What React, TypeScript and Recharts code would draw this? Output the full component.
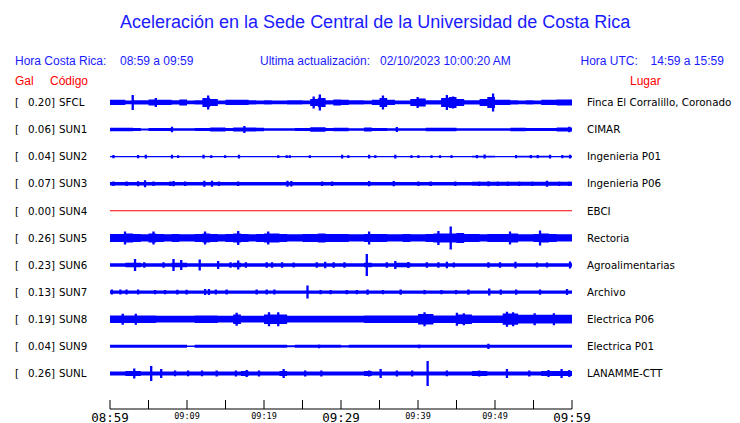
import { ComposedChart, Area, XAxis, YAxis } from 'recharts';

// estaciones
const codes = ['SFCL', 'SUN1', 'SUN2', 'SUN3', 'SUN4', 'SUN5', 'SUN6', 'SUN7', 'SUN8', 'SUN9', 'SUNL'];
const gal = ['0.20', '0.06', '0.04', '0.07', '0.00', '0.26', '0.23', '0.13', '0.19', '0.04', '0.26'];
const places = [
  'Finca El Corralillo, Coronado', 'CIMAR', 'Ingenieria P01', 'Ingenieria P06', 'EBCI', 'Rectoria',
  'Agroalimentarias', 'Archivo', 'Electrica P06', 'Electrica P01', 'LANAMME-CTT',
];
const traceColors = ['#0000ff', '#0000ff', '#0000ff', '#0000ff', '#ff0000', '#0000ff', '#0000ff', '#0000ff', '#0000ff', '#0000ff', '#0000ff'];

// eje de tiempo (minutos desde 08:59)
const minuteGrid = [
  0, 1, 2, 3, 4, 5, 6, 7, 8, 9, 10, 11, 12, 13, 14, 15, 16, 17, 18, 19, 20, 21, 22, 23, 24, 25, 26, 27, 28, 29, 30,
  31, 32, 33, 34, 35, 36, 37, 38, 39, 40, 41, 42, 43, 44, 45, 46, 47, 48, 49, 50, 51, 52, 53, 54, 55, 56, 57, 58, 59, 60,
];
const tickMinutes = [0, 5, 10, 15, 20, 25, 30, 35, 40, 45, 50, 55, 60];
const tickText = ['08:59', '', '09:09', '', '09:19', '', '09:29', '', '09:39', '', '09:49', '', '09:59'];
const bigTicks = ['08:59', '09:29', '09:59'];

// envolvente por minuto (media amplitud, px)
const envSFCL = [2.6, 2.6, 1.8, 2.2, 2.2, 3, 2.6, 2.6, 2.2, 3, 1.8, 2.2, 4.5, 3.5, 1.8, 2.6, 2.6, 2.6, 2.2, 1.8, 2.2, 1.8, 1.8, 2.2, 2.2, 1.8, 3.5, 4.5, 2.2, 3, 2.6, 2.2, 2.2, 1.8, 2.6, 4.5, 2.6, 1.8, 1.8, 3.5, 4, 2.2, 2.2, 4.5, 5.5, 3.5, 2.2, 2.2, 3.5, 5.5, 2.6, 2.6, 2.2, 1.8, 2.2, 1.8, 2.6, 2.6, 3, 3, 2.6];
const envSUN1 = [1.8, 1.8, 1.8, 1.5, 1.0, 1.5, 1.5, 1.5, 1.2, 1.2, 1.2, 1.5, 1.5, 2, 2, 1.5, 2, 2, 2, 1.8, 1.2, 1.2, 1.2, 1.2, 1.5, 1.5, 2.2, 2.2, 1.5, 1.8, 1.8, 1.3, 1.3, 2, 1.6, 1.6, 1.3, 1.3, 1.2, 1.2, 1.2, 1.8, 1.8, 1.8, 1.8, 1.3, 1.3, 1.3, 1.3, 1.3, 1.3, 1.3, 1.8, 1.8, 1.6, 1.6, 1.6, 1.6, 2, 2, 2];
const envSUN2 = [0.6, 0.6, 0.6, 0.6, 0.6, 0.6, 0.6, 0.6, 0.6, 0.6, 0.6, 0.6, 0.6, 0.6, 0.6, 0.6, 0.6, 0.6, 0.6, 0.6, 0.6, 0.6, 0.6, 0.6, 0.6, 0.6, 0.6, 0.6, 0.6, 0.6, 0.6, 0.6, 0.6, 0.6, 0.6, 0.6, 0.6, 0.6, 0.6, 0.6, 0.6, 0.6, 0.6, 0.6, 0.6, 0.6, 0.6, 0.8, 0.8, 0.8, 0.6, 0.6, 0.6, 0.8, 0.8, 0.8, 0.8, 0.6, 0.6, 0.8, 0.8];
const envSUN3 = [1.8, 1.8, 1.8, 1.8, 1.8, 1.8, 1.8, 1.8, 1.8, 1.8, 1.8, 1.8, 1.8, 1.8, 1.8, 1.8, 1.8, 1.8, 1.8, 1.8, 1.8, 1.8, 1.8, 1.8, 1.8, 1.8, 1.8, 1.8, 1.8, 1.8, 1.8, 1.8, 1.8, 1.8, 1.8, 1.8, 1.8, 1.8, 1.8, 1.8, 1.8, 1.8, 1.8, 1.8, 1.8, 1.8, 1.8, 2, 2, 2, 2, 2, 2, 2, 2, 2, 2, 2, 2, 2, 2];
const envSUN4 = [0.5, 0.5, 0.5, 0.5, 0.5, 0.5, 0.5, 0.5, 0.5, 0.5, 0.5, 0.5, 0.5, 0.5, 0.5, 0.5, 0.5, 0.5, 0.5, 0.5, 0.5, 0.5, 0.5, 0.5, 0.5, 0.5, 0.5, 0.5, 0.5, 0.5, 0.5, 0.5, 0.5, 0.5, 0.5, 0.5, 0.5, 0.5, 0.5, 0.5, 0.5, 0.5, 0.5, 0.5, 0.5, 0.5, 0.5, 0.5, 0.5, 0.5, 0.5, 0.5, 0.5, 0.5, 0.5, 0.5, 0.5, 0.5, 0.5, 0.5, 0.5];
const envSUN5 = [4, 4, 4.5, 4, 3.6, 4.5, 4, 3.6, 4, 3.6, 3.6, 4, 4.5, 4, 3.6, 4, 4.5, 4, 3.6, 4, 4.5, 4.5, 4, 3.6, 3.6, 4, 4, 4.5, 4, 4, 4, 3.6, 3.6, 4, 4, 4, 3.6, 3.6, 4, 3.6, 3.6, 4, 4.5, 4.5, 4.5, 5, 4, 4, 3.6, 4, 4, 4, 4.5, 3.6, 3.6, 4, 4.5, 4, 3.6, 3.6, 3.6];
const envSUN6 = [1.8, 1.8, 2.3, 2.3, 1.8, 1.8, 1.8, 1.8, 2.3, 2.3, 1.8, 1.8, 1.8, 1.8, 1.8, 1.8, 2.3, 1.8, 1.8, 1.8, 1.8, 1.8, 1.8, 1.8, 1.8, 1.8, 1.8, 1.8, 1.8, 1.8, 1.8, 1.8, 1.8, 2.3, 1.8, 1.8, 1.8, 2.3, 2.3, 1.8, 1.8, 1.8, 1.8, 1.8, 1.8, 1.8, 1.8, 1.8, 1.8, 1.8, 1.8, 1.8, 1.8, 1.8, 1.8, 1.8, 1.8, 1.8, 1.8, 1.8, 1.8];
const envSUN7 = [1.7, 1.7, 1.7, 1.7, 1.7, 1.7, 1.7, 1.7, 1.7, 1.7, 1.7, 1.7, 1.7, 1.7, 1.7, 1.7, 1.7, 1.7, 1.7, 1.7, 1.7, 1.7, 1.7, 1.7, 1.7, 1.7, 1.7, 1.7, 1.7, 1.7, 1.7, 1.7, 1.7, 1.7, 1.7, 1.7, 1.7, 1.7, 1.7, 1.7, 1.7, 1.7, 1.7, 1.7, 1.7, 1.7, 1.7, 1.7, 1.7, 1.7, 1.7, 1.7, 1.7, 1.7, 1.7, 1.7, 1.7, 1.7, 1.7, 1.7, 1.7];
const envSUN8 = [3.8, 3.8, 3.8, 3.8, 3.8, 3.8, 3.4, 3.4, 3.4, 3.4, 3.4, 3.8, 3.8, 3.8, 3.4, 3.4, 4.8, 3.4, 3.4, 3.4, 4.8, 4.8, 4.8, 3.4, 3.4, 3.4, 3.4, 3.4, 3.4, 3.4, 3.4, 3.4, 3.4, 3.8, 3.8, 3.8, 3.8, 3.8, 3.8, 3.8, 5.2, 5.2, 3.8, 3.8, 3.8, 4.8, 4.8, 3.8, 3.8, 3.8, 3.8, 5.6, 5.6, 4.4, 4.4, 4.4, 4.4, 4.4, 4.4, 4.4, 4.4];
const envSUN9 = [1.5, 1.5, 1.5, 1.5, 1.5, 1.5, 1.5, 1.5, 1.5, 1.5, 0.8, 1.5, 1.5, 1.5, 1.5, 1.5, 1.5, 1.5, 1.5, 1.5, 1.5, 1.5, 1.5, 1.0, 1.5, 1.5, 1.5, 1.5, 1.5, 1.5, 1.1, 1.5, 1.5, 1.5, 1.5, 1.5, 1.5, 1.5, 1.5, 1.5, 1.5, 1.5, 1.5, 1.5, 1.5, 1.5, 1.5, 1.5, 1.5, 1.5, 1.5, 1.5, 1.5, 1.5, 1.5, 1.5, 1.5, 1.5, 1.5, 1.5, 1.5];
const envSUNL = [2, 2, 2.5, 2.5, 2, 2, 2, 2, 2, 2, 2, 2, 2, 2, 2, 2, 2, 2.5, 2, 2, 2, 2, 2.5, 2, 2, 2, 2, 2, 2, 2, 2, 2, 2, 2.5, 2, 2, 2, 2, 2, 2, 2, 2, 2, 2, 2, 2, 2, 2.5, 2.5, 2, 2, 2, 2, 2, 2, 2, 2.5, 2.5, 2.5, 2.5, 2.5];

// picos: [minuto, media amplitud]
const spkSFCL = [[2.8, 7.5], [5.8, 4.5], [12.6, 7], [26.3, 6], [27.1, 8], [35.3, 7], [39.8, 5.5], [43.6, 7.5], [44.4, 6], [49.6, 9]];
const spkSUN1 = [[7.9, 2.8], [17.3, 3.5], [37.1, 2.6], [59.5, 2.8]];
const spkSUN2 = [[0.3, 1.6], [3.5, 1.6], [4.5, 1.9], [7.9, 1.9], [8.7, 1.4], [12, 1.9], [13, 1.4], [14.8, 1.4], [16.6, 1.9], [21.7, 1.4], [22.8, 1.4], [23.2, 1.4], [25.8, 1.4], [30, 1.9], [30.8, 1.4], [33.5, 1.9], [34.3, 1.4], [36.9, 1.9], [39, 1.4], [39.9, 1.4], [41.6, 1.4], [42.7, 1.4], [44.2, 1.4], [47.5, 1.6], [48.5, 2], [52.6, 1.6], [54.5, 1.6], [55.4, 1.6], [57, 1.9], [58.6, 1.6], [59.6, 1.9]];
const spkSUN3 = [[0.3, 2.3], [2, 2.2], [3.5, 2.5], [4.4, 3.5], [5.5, 2.3], [7.7, 2.3], [8.1, 2.6], [9.6, 2.3], [12.1, 3], [13.1, 3], [14, 2.3], [16.5, 2.3], [22.9, 3], [23.4, 2.8], [27.4, 2.3], [28.7, 2.3], [33.5, 2.6], [36.7, 2.6], [39.9, 2.3], [41.5, 2.3], [44.7, 2.3], [47.8, 2.3], [49, 2.5], [50.2, 2.3], [51.5, 2.3], [53, 2.3], [54.7, 2.3], [56.6, 3], [58.2, 2.3], [59.5, 2.3]];
const spkSUN4: number[][] = [];
const spkSUN5 = [[1.8, 6.5], [5.5, 6.5], [12.2, 6.5], [16.5, 7], [20.4, 6.5], [33.5, 6.5], [42.5, 7], [44.1, 11.5], [51.8, 6.5], [55.7, 7.5]];
const spkSUN6 = [[3.1, 6], [4.3, 2.8], [6.8, 2.8], [8.1, 6], [9.1, 5], [11.5, 5.5], [13.9, 4], [15.5, 2.8], [16.5, 4.5], [17.5, 2.8], [20.2, 2.8], [20.9, 2.8], [22.2, 2.8], [23.7, 2.5], [26.7, 2.8], [27.8, 3.2], [28.9, 2.8], [30.3, 2.8], [33.2, 11], [35.8, 2.8], [36.9, 4], [38.6, 3], [41, 2.8], [42.5, 2.8], [43.6, 3.2], [44.5, 2.5], [49, 2.8], [50.5, 2.8], [52.5, 3.2], [55.3, 2.5], [56.6, 2.5], [59.6, 3.5]];
const spkSUN7 = [[0.1, 2.5], [1.2, 2.5], [2, 2.5], [3.5, 2.5], [5.7, 2.2], [7, 2.2], [8.6, 2.4], [9.8, 2.4], [12.2, 3], [12.7, 3], [13.6, 2.5], [15, 2.5], [18.9, 2.5], [20.2, 2.5], [21.2, 2.5], [25.5, 6.5], [27.2, 2.2], [28.5, 2.2], [30.6, 2.2], [31.9, 2.2], [33.3, 2.6], [35.3, 2.2], [37.6, 2.6], [40.7, 2.2], [42.9, 2.2], [44.8, 2.2], [46.4, 2.6], [49.1, 3.5], [50.6, 2.6], [52.6, 2.6], [55.7, 2.6], [59.2, 3]];
const spkSUN8 = [[1.5, 5.5], [3.2, 5.5], [16.3, 6.5], [20.5, 7], [21.7, 7], [40.7, 7], [44.9, 6.5], [45.8, 6], [51.4, 7.5], [52.2, 7], [55, 6], [57.5, 6]];
const spkSUN9 = [[27, 1.9], [40, 1.9], [49, 2.6]];
const spkSUNL = [[3, 5], [5.2, 7.5], [6.5, 4.5], [8.3, 2.8], [10, 2.8], [11.8, 2.8], [13.7, 3], [16.2, 3], [17.6, 3.5], [19.2, 3], [22.4, 4.5], [25.2, 3], [27.3, 3], [33.5, 3], [35, 4.5], [37.1, 3], [39.1, 3], [41.1, 12.5], [43.6, 2.8], [47.8, 3], [51.4, 4.5], [54.3, 3], [56.8, 3.5], [58.5, 4.5], [59.5, 3.5]];

const envelopes = [envSFCL, envSUN1, envSUN2, envSUN3, envSUN4, envSUN5, envSUN6, envSUN7, envSUN8, envSUN9, envSUNL];
const spikes = [spkSFCL, spkSUN1, spkSUN2, spkSUN3, spkSUN4, spkSUN5, spkSUN6, spkSUN7, spkSUN8, spkSUN9, spkSUNL];

const SPIKE_LEN = 0.3;
const ROW_TOP = 306.6;
const ROW_STEP = 27.1;
const center = (i: number) => ROW_TOP - ROW_STEP * i;
const rowCenters = codes.map((_, i) => center(i));

function ampAt(s: number, t: number) {
  const m = Math.min(60, Math.floor(t + 1e-6));
  let a = envelopes[s][m];
  for (const [ts, as] of spikes[s]) {
    if (t >= ts - 1e-6 && t < ts + SPIKE_LEN - 1e-6) a = Math.max(a, as);
  }
  return a;
}

const times = Array.from(
  new Set([...minuteGrid, ...spikes.flat().flatMap(([t]) => [t, +(t + SPIKE_LEN).toFixed(2)])])
)
  .filter((t) => t <= 60)
  .sort((a, b) => a - b);

const data = times.map((t) => {
  const row: any = { t };
  codes.forEach((c, i) => {
    const a = ampAt(i, t);
    row[c] = [center(i) - a, center(i) + a];
  });
  return row;
});

const BLUE = '#1a1aff';
const RED = '#ff0000';
const SANS = '"Liberation Sans", Arial, sans-serif';
const LABEL = '"DejaVu Sans", sans-serif';

function rowIndex(v: number) {
  return rowCenters.findIndex((c) => Math.abs(c - v) < 0.5);
}

const LeftTick = (p: any) => {
  const i = rowIndex(p.payload.value);
  if (i < 0) return <g />;
  const y = p.y + 3.7;
  return (
    <g fontFamily={LABEL} fontSize={10.3} fill="#000">
      <text x={15} y={y}>[</text>
      <text x={28} y={y}>{gal[i]}]</text>
      <text x={59} y={y}>{codes[i]}</text>
    </g>
  );
};

const RightTick = (p: any) => {
  const i = rowIndex(p.payload.value);
  if (i < 0) return <g />;
  return (
    <text x={587} y={p.y + 3.7} fontFamily={LABEL} fontSize={10.3} fill="#000">
      {places[i]}
    </text>
  );
};

const TimeTick = (p: any) => {
  const k = tickMinutes.indexOf(p.payload.value);
  const label = tickText[k] || '';
  const big = bigTicks.includes(label);
  return (
    <g>
      <line x1={p.x} x2={p.x} y1={p.y - 9} y2={p.y} stroke="#000" strokeWidth={1} />
      {label && (
        <text
          x={p.x}
          y={p.y + (big ? 12.5 : 10)}
          textAnchor="middle"
          fontFamily='"DejaVu Sans Mono", monospace'
          fontSize={big ? 12.5 : 8.5}
          fill="#000"
        >
          {label}
        </text>
      )}
    </g>
  );
};

export default function App() {
  return (
    <div style={{ position: 'absolute', left: 0, top: 0, width: 740, height: 423, background: '#fff' }}>
      <ComposedChart width={740} height={423} data={data} margin={{ top: 88, right: 0, bottom: 0, left: 0 }}>
        <XAxis
          dataKey="t"
          type="number"
          domain={[0, 60]}
          allowDataOverflow
          ticks={tickMinutes}
          interval={0}
          height={14}
          tickSize={0}
          tickMargin={0}
          tickLine={false}
          axisLine={{ stroke: '#000' }}
          tick={TimeTick}
        />
        <YAxis
          yAxisId="l"
          type="number"
          domain={[0, 321]}
          allowDataOverflow
          ticks={rowCenters}
          interval={0}
          width={110}
          axisLine={false}
          tickLine={false}
          tick={LeftTick}
        />
        <YAxis
          yAxisId="r"
          orientation="right"
          type="number"
          domain={[0, 321]}
          allowDataOverflow
          ticks={rowCenters}
          interval={0}
          width={168}
          axisLine={false}
          tickLine={false}
          tick={RightTick}
        />
        {codes.map((c, i) => (
          <Area
            key={c}
            yAxisId="l"
            dataKey={c}
            type="stepAfter"
            stroke="none"
            fill={traceColors[i]}
            fillOpacity={1}
            dot={false}
            activeDot={false}
            isAnimationActive={false}
          />
        ))}
      </ComposedChart>
      <svg width={740} height={100} style={{ position: 'absolute', left: 0, top: 0, pointerEvents: 'none' }}>
        <text x={120} y={28} fontFamily={SANS} fontSize={18} fill={BLUE}>
          Aceleración en la Sede Central de la Universidad de Costa Rica
        </text>
        <g fontFamily={SANS} fontSize={12} fill={BLUE}>
          <text x={15} y={65}>Hora Costa Rica:</text>
          <text x={120} y={65}>08:59 a 09:59</text>
          <text x={260} y={65}>Ultima actualización:</text>
          <text x={380} y={65}>02/10/2023 10:00:20 AM</text>
          <text x={580.5} y={65}>Hora UTC:</text>
          <text x={650.5} y={65}>14:59 a 15:59</text>
        </g>
        <g fontFamily={SANS} fontSize={12} fill={RED}>
          <text x={15} y={84.7}>Gal</text>
          <text x={50} y={84.7}>Código</text>
          <text x={630} y={84.7}>Lugar</text>
        </g>
      </svg>
    </div>
  );
}
